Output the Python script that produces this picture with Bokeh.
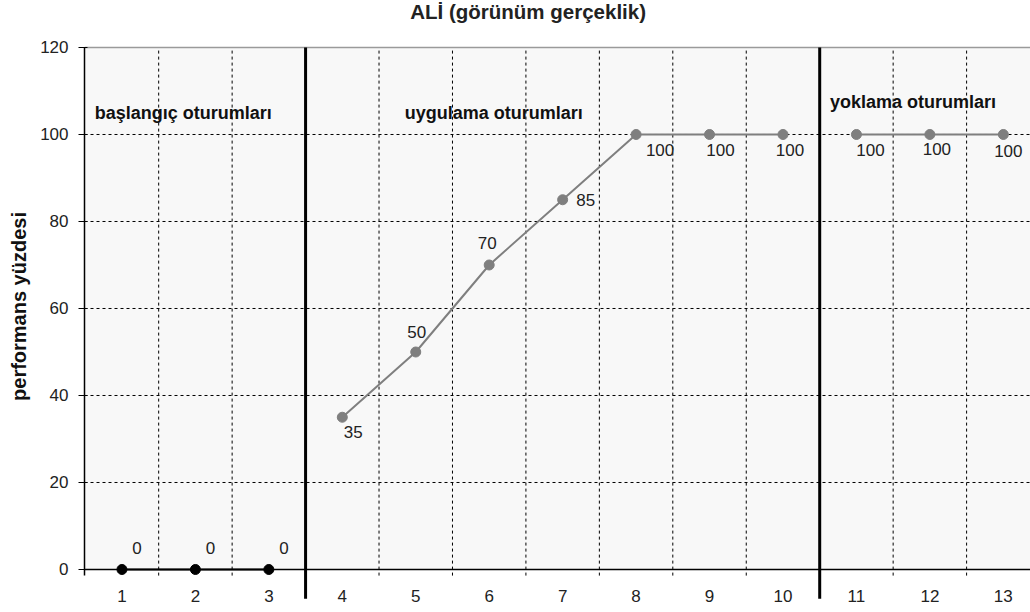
from bokeh.plotting import figure
from bokeh.models import FixedTicker, Label, ColumnDataSource, Range1d, BoxAnnotation
from bokeh.core.properties import value
from bokeh.embed import file_html
from bokeh.resources import INLINE

# ---- data ----
title_text = "ALİ (görünüm gerçeklik)"
y_label = "performans yüzdesi"
sessions = [1, 2, 3, 4, 5, 6, 7, 8, 9, 10, 11, 12, 13]
tick_labels = ["1", "2", "3", "4", "5", "6", "7", "8", "9", "10", "11", "12", "13"]
y_ticks = [0, 20, 40, 60, 80, 100, 120]

baseline_x = [1, 2, 3]
baseline_y = [0, 0, 0]
intervention_x = [4, 5, 6, 7, 8, 9, 10]
intervention_y = [35, 50, 70, 85, 100, 100, 100]
probe_x = [11, 12, 13]
probe_y = [100, 100, 100]

phase_names = ["başlangıç oturumları", "uygulama oturumları", "yoklama oturumları"]
phase_breaks = [3.5, 10.5]

# label offsets (screen px, y down) for value labels
baseline_dx = [15, 15, 15]
baseline_dy = [-21, -21, -21]
intervention_dx = [11, 1, -2, 23, 24, 11, 7]
intervention_dy = [15, -20, -22, 0, 16, 16, 16]
probe_dx = [14, 7, 5]
probe_dy = [16, 15, 17]

FONT = "Liberation Sans"
GREY = "#7f7f7f"
Y_MIN, Y_MAX = y_ticks[0], y_ticks[-1]

xr = Range1d(0.49, 13.37)
yr = Range1d(-9.885, 130.8)
p = figure(width=1030, height=612, output_backend="svg", toolbar_location=None,
           x_range=xr, y_range=yr, x_axis_location=None,
           min_border_left=84, min_border_right=0, min_border_top=0, min_border_bottom=0)

p.background_fill_color = "white"
p.border_fill_color = "white"
p.outline_line_color = None
p.grid.visible = False

# plot-area background
p.add_layout(BoxAnnotation(bottom=Y_MIN, top=Y_MAX, fill_color="#f8f8f8", fill_alpha=1,
                           line_color=None, level="underlay"))

# grid lines
half = [s + 0.5 for s in sessions[:-1]]
grid_x = [h for h in half if h not in phase_breaks]
p.segment(x0=grid_x, y0=[-1.4] * len(grid_x), x1=grid_x, y1=[Y_MAX] * len(grid_x),
          line_color="black", line_dash="3 3", line_width=1)
gy = y_ticks[1:-1]
p.segment(x0=[xr.start] * len(gy), y0=gy, x1=[xr.end] * len(gy), y1=gy,
          line_color="black", line_dash="3 3", line_width=1)
# top border
p.segment(x0=[xr.start], y0=[Y_MAX], x1=[xr.end], y1=[Y_MAX], line_color="#9a9a9a", line_width=1.5)
# x axis line
p.segment(x0=[xr.start], y0=[Y_MIN], x1=[xr.end], y1=[Y_MIN], line_color="black", line_width=1.5)

# phase separators (extend below axis)
p.segment(x0=phase_breaks, y0=[-6.7] * 2, x1=phase_breaks, y1=[Y_MAX] * 2,
          line_color="black", line_width=3)

# x tick labels
p.text(x=sessions, y=[Y_MIN] * len(sessions), text=tick_labels, y_offset=27,
       text_font=value(FONT), text_font_size="17px", text_color="#222222",
       text_align="center", text_baseline="middle")

# y axis
p.yaxis.bounds = (-1.4, Y_MAX)
p.yaxis.ticker = FixedTicker(ticks=y_ticks)
p.yaxis.major_tick_out = 6
p.yaxis.major_tick_in = 3
p.yaxis.minor_tick_line_color = None
p.yaxis.major_label_standoff = 10
p.yaxis.axis_label = y_label
p.yaxis.axis_label_text_font = FONT
p.yaxis.axis_label_text_font_size = "20px"
p.yaxis.axis_label_text_font_style = "bold"
p.yaxis.axis_label_text_color = "#111111"
p.yaxis.axis_label_standoff = 7
p.yaxis.axis_line_color = "black"
p.yaxis.axis_line_width = 1.5
p.yaxis.major_tick_line_color = "black"
p.yaxis.major_label_text_font = FONT
p.yaxis.major_label_text_font_size = "17px"
p.yaxis.major_label_text_color = "#222222"

# series
p.line(baseline_x, baseline_y, line_color="black", line_width=2)
p.scatter(baseline_x, baseline_y, size=10, fill_color="black", line_color="black")
p.line(intervention_x, intervention_y, line_color=GREY, line_width=2)
p.scatter(intervention_x, intervention_y, size=10, fill_color=GREY, line_color=GREY)
p.line(probe_x, probe_y, line_color=GREY, line_width=2)
p.scatter(probe_x, probe_y, size=10, fill_color=GREY, line_color=GREY)

# value labels
for xs, ys, dx, dy in [(baseline_x, baseline_y, baseline_dx, baseline_dy),
                       (intervention_x, intervention_y, intervention_dx, intervention_dy),
                       (probe_x, probe_y, probe_dx, probe_dy)]:
    src = ColumnDataSource(dict(x=xs, y=ys, t=[str(v) for v in ys], dx=dx, dy=dy))
    p.text(x="x", y="y", text="t", x_offset="dx", y_offset="dy", source=src,
           text_font=value(FONT), text_font_size="17px", text_color="#222222",
           text_align="center", text_baseline="middle")

# phase labels
phase_x = [0.63, 4.85, 10.64]
phase_y = [105, 105, 107.4]
for name, lx, ly in zip(phase_names, phase_x, phase_y):
    p.add_layout(Label(x=lx, y=ly, text=name, text_font=FONT, text_font_size="18px",
                       text_font_style="bold", text_color="#111111", text_baseline="middle"))

# title
p.add_layout(Label(x=6.53, y=128.2, text=title_text, text_font=FONT, text_font_size="20.5px",
                   text_font_style="bold", text_color="#222222",
                   text_align="center", text_baseline="middle"))

open("out.html", "w").write(file_html(p, INLINE))
